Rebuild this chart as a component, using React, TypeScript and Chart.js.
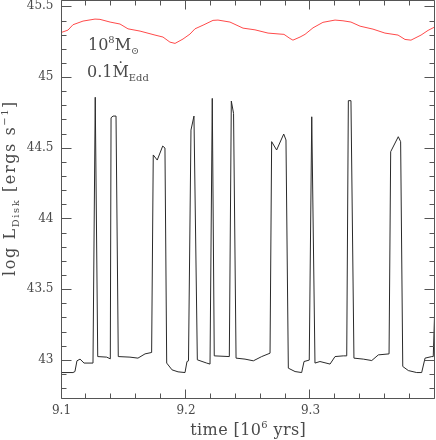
import React, { useEffect, useRef } from 'react';
import { Chart, registerables } from 'chart.js';

Chart.register(...registerables);

// Disk luminance (black) – time in 10^6 yrs, log L
const diskTime = [
  9.1000, 9.1092, 9.1108, 9.1124, 9.1149, 9.1181, 9.1253, 9.1271, 9.1291, 9.1363,
  9.1392, 9.1398, 9.1414, 9.1438, 9.1456, 9.1550, 9.1614, 9.1671, 9.1724, 9.1737,
  9.1769, 9.1813, 9.1831, 9.1845, 9.1888, 9.1936, 9.1992, 9.2008, 9.2020, 9.2040,
  9.2064, 9.2091, 9.2166, 9.2193, 9.2211, 9.2227, 9.2348, 9.2364, 9.2382, 9.2402,
  9.2474, 9.2541, 9.2608, 9.2675, 9.2688, 9.2728, 9.2785, 9.2803, 9.2822, 9.2876,
  9.2929, 9.2948, 9.2990, 9.3010, 9.3036, 9.3076, 9.3157, 9.3197, 9.3263, 9.3291,
  9.3304, 9.3325, 9.3349, 9.3424, 9.3492, 9.3545, 9.3631, 9.3644, 9.3705, 9.3724,
  9.3741, 9.3786, 9.3853, 9.3893, 9.3920, 9.3974, 9.3986, 9.4000,
];
const diskLog = [
  42.910, 42.910, 42.917, 42.993, 43.005, 42.977, 42.977, 44.857, 43.023, 43.019,
  43.007, 44.712, 44.724, 44.724, 43.023, 43.019, 43.012, 43.042, 43.052, 44.449,
  44.413, 44.512, 44.498, 42.977, 42.929, 42.915, 42.910, 42.988, 42.993, 44.625,
  44.724, 43.000, 42.977, 42.970, 44.849, 43.028, 43.023, 44.830, 44.743, 43.012,
  43.005, 42.993, 43.023, 43.047, 44.543, 44.484, 44.597, 44.555, 42.941, 42.917,
  42.910, 42.988, 42.998, 44.719, 42.977, 42.988, 42.970, 43.023, 43.028, 43.028,
  44.833, 44.833, 43.012, 43.005, 42.995, 43.035, 43.042, 44.472, 44.578, 44.543,
  42.953, 42.924, 42.910, 42.910, 43.012, 43.023, 43.023, 43.424,
];

// Total (red) curve
const totalTime = [
  9.1000, 9.1052, 9.1092, 9.1173, 9.1269, 9.1309, 9.1390, 9.1470, 9.1534, 9.1631,
  9.1751, 9.1815, 9.1871, 9.1912, 9.1976, 9.2032, 9.2072, 9.2137, 9.2217, 9.2257,
  9.2353, 9.2458, 9.2554, 9.2659, 9.2755, 9.2787, 9.2835, 9.2859, 9.2916, 9.2956,
  9.3020, 9.3100, 9.3197, 9.3261, 9.3325, 9.3398, 9.3502, 9.3598, 9.3703, 9.3759,
  9.3807, 9.3888, 9.3944, 9.4000,
];
const totalLog = [
  45.316, 45.332, 45.370, 45.396, 45.410, 45.408, 45.389, 45.375, 45.341, 45.325,
  45.297, 45.283, 45.247, 45.238, 45.269, 45.304, 45.341, 45.367, 45.401, 45.403,
  45.389, 45.346, 45.334, 45.311, 45.304, 45.302, 45.273, 45.261, 45.283, 45.302,
  45.348, 45.387, 45.403, 45.398, 45.389, 45.360, 45.339, 45.311, 45.297, 45.266,
  45.261, 45.297, 45.330, 45.355,
];

const xTickValues = [9.1, 9.2, 9.3];
const xTickLabels = ['9.1', '9.2', '9.3'];
const yTickValues = [43, 43.5, 44, 44.5, 45, 45.5];
const yTickLabels = ['43', '43.5', '44', '44.5', '45', '45.5'];

const X_MIN = 9.1;
const X_MAX = 9.4;
const Y_MIN = 42.73;
const Y_MAX = 45.545;

const SERIF = '"DejaVu Serif", "DejaVu Sans", serif';
const TEXT_COLOR = '#4a4a4a';
const AXIS_COLOR = '#555';

type Part = { t: string; s?: 'sup' | 'sub' };

function richWidth(ctx: CanvasRenderingContext2D, parts: Part[], size: number) {
  let w = 0;
  for (const p of parts) {
    const fs = p.s ? size * 0.62 : size;
    ctx.font = `${fs}px ${SERIF}`;
    w += ctx.measureText(p.t).width;
  }
  return w;
}

function drawRich(ctx: CanvasRenderingContext2D, parts: Part[], x: number, y: number, size: number) {
  let cx = x;
  ctx.textBaseline = 'alphabetic';
  ctx.textAlign = 'left';
  for (const p of parts) {
    const fs = p.s ? size * 0.62 : size;
    const dy = p.s === 'sup' ? -size * 0.42 : p.s === 'sub' ? size * 0.28 : 0;
    ctx.font = `${fs}px ${SERIF}`;
    ctx.fillText(p.t, cx, y + dy);
    cx += ctx.measureText(p.t).width;
  }
}

const framePlugin = {
  id: 'smFrame',
  afterDraw(chart: any) {
    const ctx: CanvasRenderingContext2D = chart.ctx;
    const xs = chart.scales.x;
    const ys = chart.scales.y;
    const { left, right, top, bottom } = chart.chartArea;
    const L = Math.round(left) - 0.5;
    const R = Math.round(right) - 0.5;
    const T = Math.round(top) + 0.5;
    const B = Math.round(bottom) + 0.5;
    ctx.save();
    ctx.strokeStyle = AXIS_COLOR;
    ctx.lineWidth = 1;
    ctx.beginPath();
    ctx.rect(L, T, R - L, B - T);
    ctx.stroke();

    ctx.beginPath();
    // x ticks every 0.02, major every 0.1
    for (let i = 0; i <= 15; i++) {
      const v = X_MIN + i * 0.02;
      const px = Math.round(xs.getPixelForValue(v)) - 0.5;
      const major = i % 5 === 0;
      const len = major ? 9 : 5;
      ctx.moveTo(px, B);
      ctx.lineTo(px, B - len);
      ctx.moveTo(px, T);
      ctx.lineTo(px, T + len);
    }
    // y ticks every 0.1, major every 0.5
    for (let i = 0; i <= 27; i++) {
      const v = 42.8 + i * 0.1;
      const py = Math.round(ys.getPixelForValue(v)) + 0.5;
      const major = Math.abs(Math.round(v * 2) - v * 2) < 1e-6;
      const len = major ? 10 : 5;
      ctx.moveTo(L, py);
      ctx.lineTo(L + len, py);
      ctx.moveTo(R, py);
      ctx.lineTo(R - len, py);
    }
    ctx.stroke();

    ctx.fillStyle = TEXT_COLOR;
    // x title
    (ctx as any).letterSpacing = '0.4px';
    const xParts: Part[] = [{ t: 'time [10' }, { t: '6', s: 'sup' }, { t: ' yrs]' }];
    const xw = richWidth(ctx, xParts, 16);
    drawRich(ctx, xParts, (left + right) / 2 - xw / 2, 435, 16);

    // y title (rotated)
    (ctx as any).letterSpacing = '1.6px';
    const yParts: Part[] = [
      { t: 'log L' },
      { t: 'Disk', s: 'sub' },
      { t: ' [ergs s' },
      { t: '\u22121', s: 'sup' },
      { t: ']' },
    ];
    const yw = richWidth(ctx, yParts, 16);
    ctx.save();
    ctx.translate(15, 276);
    ctx.rotate(-Math.PI / 2);
    drawRich(ctx, yParts, 0, 0, 16);
    ctx.restore();
    void yw;

    // annotations
    (ctx as any).letterSpacing = '0px';
    drawRich(ctx, [{ t: '10' }, { t: '8', s: 'sup' }, { t: 'M' }, { t: '\u2299', s: 'sub' }], 88, 50, 16);
    drawRich(ctx, [{ t: '0.1\u1E40' }, { t: 'Edd', s: 'sub' }], 87, 77, 16);
    ctx.restore();
  },
};

export default function App() {
  const ref = useRef<HTMLCanvasElement | null>(null);

  useEffect(() => {
    if (!ref.current) return;
    const chart = new Chart(ref.current, {
      type: 'line',
      data: {
        datasets: [
          {
            data: totalTime.map((t, i) => ({ x: t, y: totalLog[i] })),
            borderColor: '#ff4a4a',
            borderWidth: 1,
            pointRadius: 0,
            tension: 0,
          },
          {
            data: diskTime.map((t, i) => ({ x: t, y: diskLog[i] })),
            borderColor: '#2a2a2a',
            borderWidth: 1,
            pointRadius: 0,
            tension: 0,
          },
        ],
      },
      options: {
        responsive: false,
        animation: false,
        devicePixelRatio: 1,
        layout: { padding: { left: 0, right: 1, top: 0, bottom: 0 } },
        plugins: { legend: { display: false }, tooltip: { enabled: false } },
        scales: {
          x: {
            type: 'linear',
            min: X_MIN,
            max: X_MAX,
            grid: { display: false, drawTicks: false },
            border: { display: false },
            afterBuildTicks: (s: any) => {
              s.ticks = xTickValues.map((v) => ({ value: v }));
            },
            afterFit: (s: any) => {
              s.height = 42;
              s.paddingLeft = 0;
              s.paddingRight = 0;
            },
            ticks: {
              autoSkip: false,
              maxRotation: 0,
              padding: 6,
              color: TEXT_COLOR,
              font: { family: SERIF, size: 12 },
              callback: (_v: any, i: number) => xTickLabels[i],
            },
          },
          y: {
            type: 'linear',
            min: Y_MIN,
            max: Y_MAX,
            grid: { display: false, drawTicks: false },
            border: { display: false },
            afterBuildTicks: (s: any) => {
              s.ticks = yTickValues.map((v) => ({ value: v }));
            },
            afterFit: (s: any) => {
              s.width = 61.5;
              s.paddingTop = 0;
              s.paddingBottom = 0;
            },
            ticks: {
              autoSkip: false,
              padding: 8,
              color: TEXT_COLOR,
              font: { family: SERIF, size: 12 },
              callback: (_v: any, i: number) => yTickLabels[i],
            },
          },
        },
      },
      plugins: [framePlugin],
    } as any);
    return () => chart.destroy();
  }, []);

  return (
    <div style={{ position: 'absolute', left: 0, top: 0, width: 436, height: 440, background: '#fff' }}>
      <canvas ref={ref} width={436} height={440} style={{ display: 'block' }} />
    </div>
  );
}
